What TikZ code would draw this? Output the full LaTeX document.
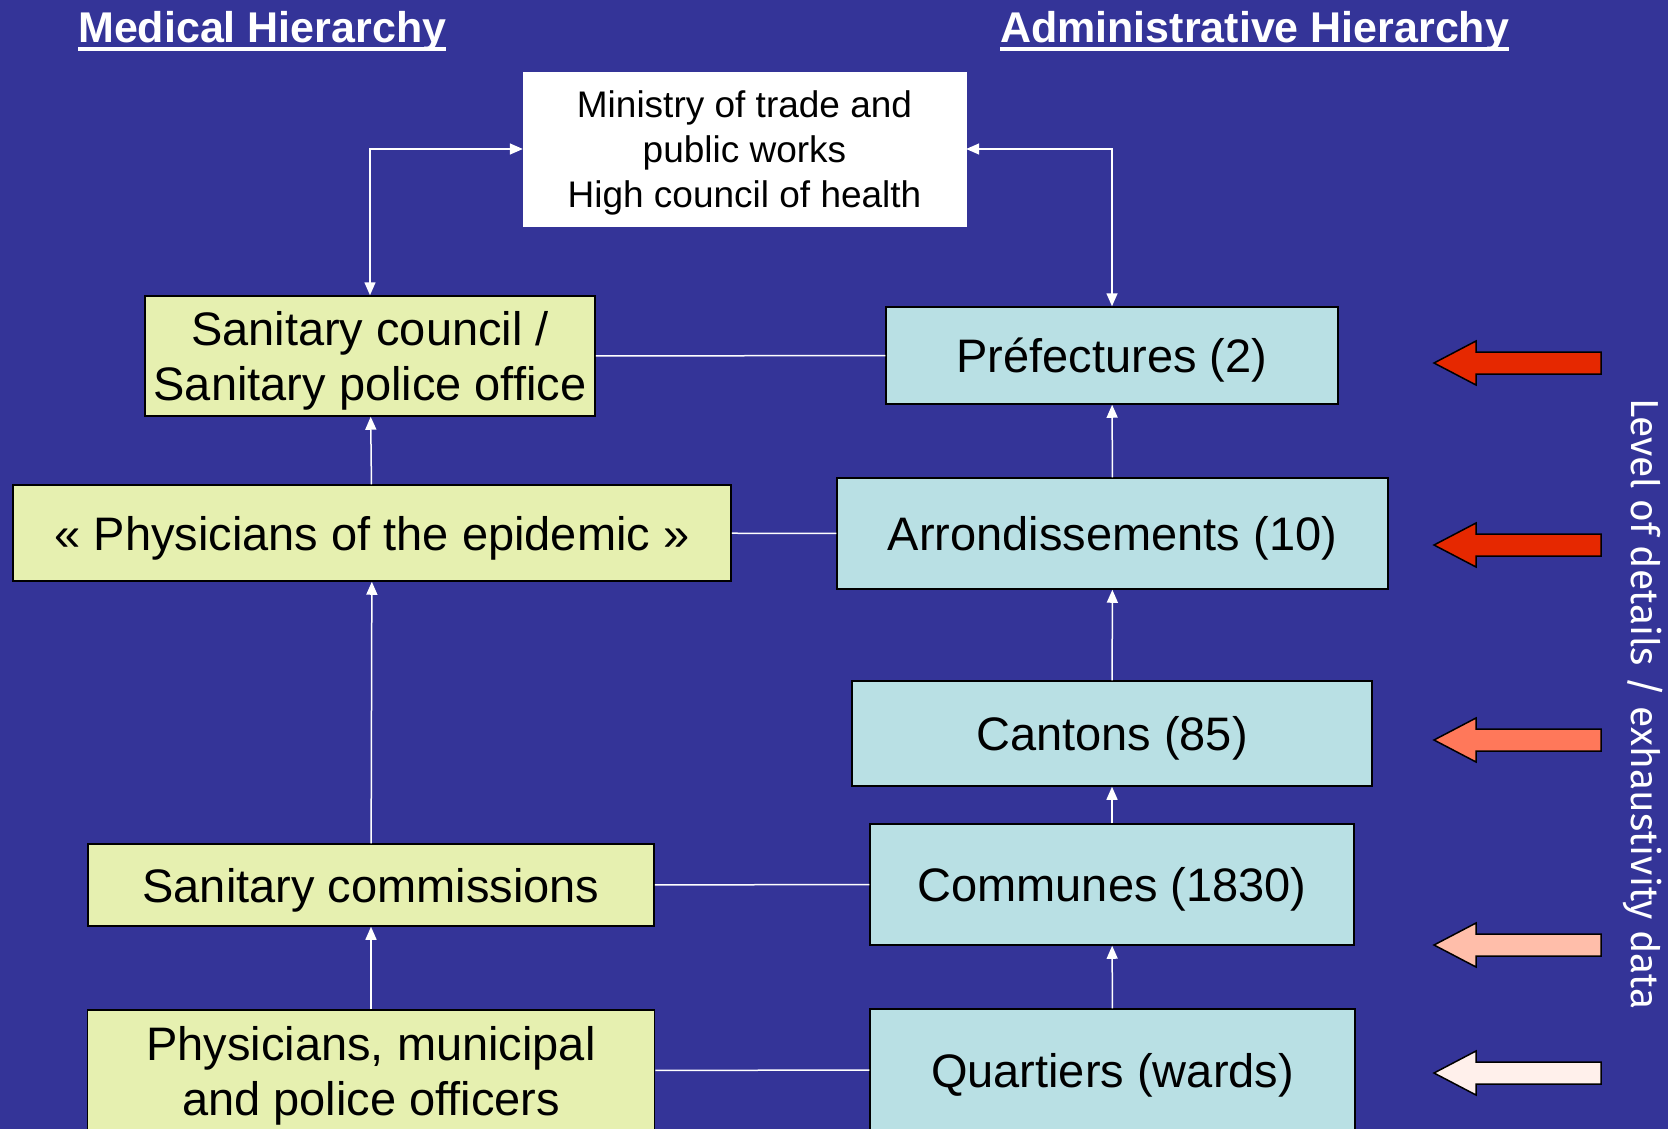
\documentclass[tikz,border=0pt]{standalone}
\usepackage{fontspec}
\setmainfont{Liberation Sans}
\newfontfamily\lvlfont{Fira Sans}
\usetikzlibrary{arrows.meta}
\definecolor{bg}{RGB}{52,52,152}
\definecolor{medfill}{RGB}{230,240,176}
\definecolor{admfill}{RGB}{185,224,228}
\definecolor{arA}{RGB}{230,40,0}
\definecolor{arB}{RGB}{255,120,90}
\definecolor{arC}{RGB}{255,190,170}
\definecolor{arD}{RGB}{255,240,235}
\newcommand\myul[1]{\setbox0\hbox{#1}\rlap{\rule[-8pt]{\wd0}{4pt}}\box0}
\begin{document}
\begin{tikzpicture}[x=1pt,y=-1pt,
  box/.style={draw=black, line width=1.5pt, inner sep=0pt, align=center, text depth=0pt, font=\fontsize{47}{55}\selectfont},
  med/.style={box, fill=medfill},
  adm/.style={box, fill=admfill},
  topbox/.style={fill=white, draw=white, inner sep=0pt, align=center, text depth=0pt, font=\fontsize{37}{45}\selectfont, minimum width=443pt, minimum height=154pt},
  conn/.style={white, line width=1.5pt},
  up/.style={conn, -{Triangle[length=13pt,width=11pt]}},
  dbl/.style={conn, {Triangle[length=13pt,width=11pt]}-{Triangle[length=13pt,width=11pt]}},
  head/.style={white, font=\fontsize{43}{50}\selectfont\bfseries, anchor=base west, inner sep=0pt},
  lvl/.style={white, font=\lvlfont\fontsize{39}{45}\selectfont, rotate=-90, inner sep=0pt},
  lvlarrow/.style={draw=black, line width=1.5pt}
]
\useasboundingbox (0,0) rectangle (1668,1129);
\clip (0,0) rectangle (1668,1129);
\fill[bg] (0,0) rectangle (1668,1129);

% headers
\node[head] (mh) at (78,43) {\myul{Medical Hierarchy}};
\node[head] (ah) at (1000,43) {\myul{Administrative Hierarchy}};

% top box
\node[topbox] (min) at (744.5,149) {Ministry of trade and\\public works\\High council of health};

% medical hierarchy
\node[med, minimum width=450pt, minimum height=120pt] (sc) at (370,356) {Sanitary council /\\Sanitary police office};
\node[med, minimum width=718pt, minimum height=96pt] (pe) at (372,533) {« Physicians of the epidemic »};
\node[med, minimum width=566pt, minimum height=82pt] (scom) at (371,885) {Sanitary commissions};
\node[med, minimum width=567pt, minimum height=121pt] (pm) at (371,1070.5) {Physicians, municipal\\and police officers};

% administrative hierarchy
\node[adm, minimum width=452pt, minimum height=97pt] (pref) at (1112,355.5) {Préfectures (2)};
\node[adm, minimum width=551pt, minimum height=111pt] (arr) at (1112.5,533.5) {Arrondissements (10)};
\node[adm, minimum width=520pt, minimum height=105pt] (can) at (1112,733.5) {Cantons (85)};
\node[adm, minimum width=484pt, minimum height=121pt] (com) at (1112,884.5) {Communes (1830)};
\node[adm, minimum width=485pt, minimum height=122pt] (qua) at (1112.5,1070) {Quartiers (wards)};

% connectors
\draw[dbl] (sc.north) |- (min.west);
\draw[dbl] (pref.north) |- (min.east);
\draw[up] (pe) -- (sc);
\draw[up] (scom) -- (pe);
\draw[up] (pm) -- (scom);
\draw[up] (arr) -- (pref);
\draw[up] (can) -- (arr);
\draw[up] (com) -- (can);
\draw[up] (qua) -- (com);
\draw[conn] (sc) -- (pref);
\draw[conn] (pe) -- (arr);
\draw[conn] (scom) -- (com);
\draw[conn] (pm) -- (qua);

% level arrows
\foreach \c/\col in {363/arA, 545/arA, 740/arB, 945/arC, 1073/arD}{
  \filldraw[lvlarrow, fill=\col] (1434,\c) -- (1476,\c-22) -- (1476,\c-11) -- (1601,\c-11)
    -- (1601,\c+11) -- (1476,\c+11) -- (1476,\c+22) -- cycle;
}
\node[lvl] (lv) at (1643,704) {Level of details / exhaustivity data};
\end{tikzpicture}
\end{document}
